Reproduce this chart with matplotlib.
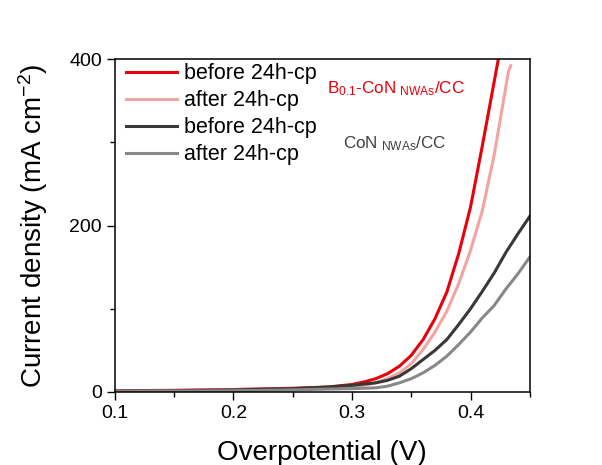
import matplotlib.pyplot as plt
from matplotlib.ticker import MultipleLocator

plt.rcParams['font.family'] = ['Liberation Sans', 'DejaVu Sans']
plt.rcParams['mathtext.default'] = 'regular'

# LSV polarization curves (overpotential in V, current density in mA cm^-2)
b_before_x = [0.10, 0.15, 0.20, 0.25, 0.28, 0.30, 0.31, 0.32, 0.33, 0.34, 0.35,
              0.36, 0.37, 0.38, 0.39, 0.40, 0.41, 0.4235]
b_before_y = [1.5, 2, 3, 4.5, 6, 9, 12, 16, 22, 31, 44,
              63, 88, 120, 166, 222, 296, 400]

b_after_x = [0.10, 0.15, 0.20, 0.25, 0.28, 0.30, 0.31, 0.32, 0.33, 0.34, 0.35,
             0.36, 0.37, 0.38, 0.39, 0.40, 0.41, 0.42, 0.43, 0.432, 0.434]
b_after_y = [1, 1.5, 2.5, 3.5, 5, 7, 8, 11, 16, 23, 34,
             51, 72, 97, 130, 170, 218, 285, 368, 385, 392]

con_before_x = [0.10, 0.15, 0.20, 0.25, 0.28, 0.30, 0.32, 0.33, 0.34, 0.35, 0.36,
                0.37, 0.38, 0.39, 0.40, 0.41, 0.42, 0.43, 0.44, 0.45]
con_before_y = [1, 1.5, 2.5, 4, 6, 8, 11, 14, 19, 28, 39,
                50, 63, 81, 100, 121, 143, 168, 190, 211]

con_after_x = [0.10, 0.15, 0.20, 0.25, 0.28, 0.30, 0.32, 0.33, 0.34, 0.35, 0.36,
               0.37, 0.38, 0.39, 0.40, 0.41, 0.42, 0.43, 0.44, 0.45]
con_after_y = [0.5, 1, 1.5, 2.5, 3.5, 4, 5, 7, 11, 16, 23,
               32, 43, 57, 72, 89, 104, 124, 142, 162]

labels = ['before 24h-cp', 'after 24h-cp', 'before 24h-cp', 'after 24h-cp']
colors = ['#e8000b', '#f4a3a3', '#383838', '#888888']

fig = plt.figure(figsize=(6.02, 4.65), dpi=100)
ax = fig.add_axes([0.191, 0.157, 0.689, 0.716])

series = [(b_before_x, b_before_y), (b_after_x, b_after_y),
          (con_before_x, con_before_y), (con_after_x, con_after_y)]
lines = []
for (xs, ys), lab, c in zip(series, labels, colors):
    ln, = ax.plot(xs, ys, color=c, lw=2.2, label=lab)
    lines.append(ln)

ax.set_xlim(0.1, 0.45)
ax.set_ylim(0, 400)
ax.xaxis.set_major_locator(MultipleLocator(0.1))
ax.xaxis.set_minor_locator(MultipleLocator(0.05))
ax.yaxis.set_major_locator(MultipleLocator(200))
ax.yaxis.set_minor_locator(MultipleLocator(100))
ax.tick_params(which='major', direction='out', length=6, width=1, labelsize=14)
ax.tick_params(which='minor', direction='out', length=3.5, width=1)
for s in ax.spines.values():
    s.set_linewidth(1.1)

ax.set_xlabel('Overpotential (V)', fontsize=20, labelpad=13)
ax.set_ylabel('Current density (mA cm$^{-2}$)', fontsize=20, labelpad=14)

ax.legend(handles=lines, loc='upper left', frameon=False, fontsize=15.5,
          handlelength=2.4, handletextpad=0.3, labelspacing=0.28,
          borderaxespad=0.1, bbox_to_anchor=(0.0, 1.02))

ax.text(0.51, 0.91, r'B$_{0.1}$-CoN$_{\ NWAs}$/CC', transform=ax.transAxes,
        color='#e8000b', fontsize=12.3, ha='left', va='center')
ax.text(0.55, 0.745, r'CoN$_{\ NWAs}$/CC', transform=ax.transAxes,
        color='#404040', fontsize=12.3, ha='left', va='center')

fig.savefig('out.png', dpi=100)
